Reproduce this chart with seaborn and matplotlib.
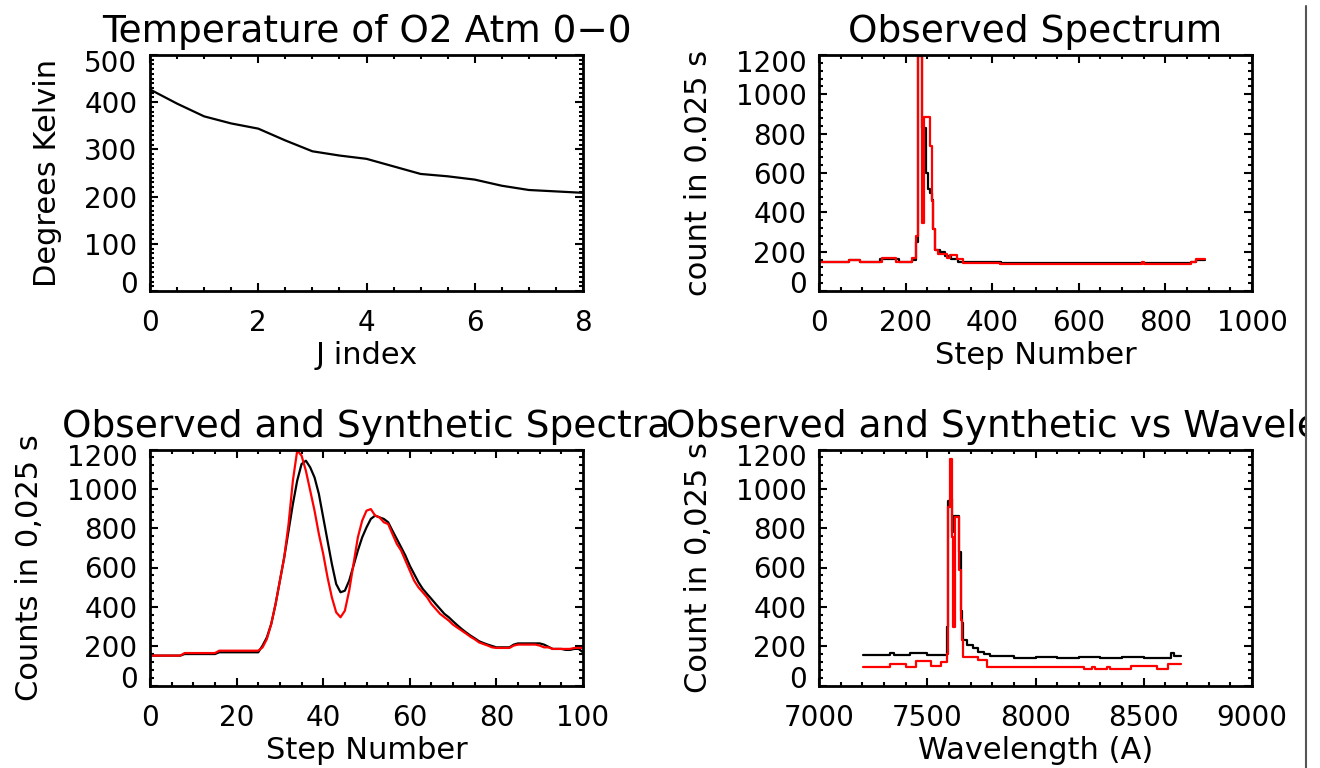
"""
Four-panel O2 atmospheric band figure: temperature vs J index and
observed / synthetic spectra, IDL-style boxed axes.
"""
import matplotlib
matplotlib.use('Agg')
import matplotlib.pyplot as plt
import matplotlib.transforms as mtransforms
from matplotlib.patches import Rectangle
from matplotlib.lines import Line2D
from matplotlib.ticker import MultipleLocator
import seaborn as sns

sns.set_style('ticks')
plt.rcParams['font.family'] = ['DejaVu Sans']
plt.rcParams['text.color'] = 'black'
plt.rcParams['axes.labelcolor'] = 'black'
plt.rcParams['xtick.color'] = 'black'
plt.rcParams['ytick.color'] = 'black'

# ---- panel 1: temperature vs J index
j_index = [0, 0.5, 1, 1.5, 2, 2.5, 3, 3.5, 4, 4.5, 5, 5.5, 6, 6.5, 7, 7.5, 8]
temp_k = [427, 397, 370, 355, 344, 319, 296, 287, 280, 264, 248, 243, 236, 223, 214, 211, 208]
temp_xticks = [0, 2, 4, 6, 8]
temp_yticks = [0, 100, 200, 300, 400, 500]

# ---- panel 2: full observed spectrum (step number)
obs_steps_black = [0, 70, 95, 140, 185, 215, 225, 229, 238, 241, 244, 248, 252, 256, 260,
                   264, 268, 280, 290, 305, 320, 420, 500, 600, 700, 800, 860, 870, 892]
obs_black = [150, 157, 150, 165, 150, 157, 250, 1195, 830, 690, 830, 600, 520, 500, 465,
             313, 211, 200, 178, 165, 150, 142, 140, 142, 140, 142, 150, 160, 160]
obs_steps_red = [0, 70, 95, 145, 178, 215, 225, 229, 239, 242, 256, 260, 264, 268, 275,
                 295, 302, 318, 333, 418, 745, 750, 860, 870, 892]
obs_red = [147, 160, 147, 169, 147, 169, 279, 1195, 347, 887, 735, 456, 313, 211, 186,
           169, 181, 164, 144, 136, 150, 136, 150, 165, 165]
step_xticks = [0, 200, 400, 600, 800, 1000]

# ---- panel 3: observed and synthetic, steps 0-100
zoom_steps = list(range(101))
zoom_black = [152, 152, 152, 152, 152, 152, 152, 152, 160, 160, 160, 160, 160, 160, 160, 160,
              169, 169, 169, 169, 169, 169, 169, 169, 169, 169,
              203, 245, 313, 414, 533, 652, 787, 923, 1042, 1126, 1143, 1109, 1058, 974,
              855, 736, 618, 516, 474, 482, 533, 609, 686, 753, 804, 847, 864, 855, 847,
              830, 787, 745, 703, 660, 609, 567, 525, 491, 465, 440, 414, 389, 364, 347,
              326, 306, 287, 270, 254, 240, 225, 216, 208, 201,
              194, 194, 194, 194, 208, 214, 214, 214, 214, 214, 214, 208, 197,
              186, 186, 186, 181, 181, 186, 186, 169]
zoom_red = [152, 152, 152, 152, 152, 152, 152, 152, 165, 165, 165, 165, 165, 165, 165, 165,
            177, 177, 177, 177, 177, 177, 177, 177, 177, 177,
            194, 237, 313, 414, 533, 652, 821, 1042, 1195, 1169, 1092, 991, 889, 770,
            669, 550, 448, 372, 347, 380, 482, 618, 753, 838, 889, 897, 864, 855, 830,
            821, 770, 720, 686, 635, 584, 533, 499, 474, 448, 414, 389, 364, 347, 330,
            309, 294, 279, 264, 248, 235, 219, 211, 203, 194,
            191, 191, 191, 191, 203, 208, 208, 208, 208, 208, 203, 194, 194,
            186, 186, 186, 186, 186, 191, 191, 191]
zoom_xticks = [0, 20, 40, 60, 80, 100]

# ---- panel 4: observed and synthetic vs wavelength
wl_black = [7205, 7330, 7345, 7420, 7480, 7500, 7590, 7598, 7606, 7613, 7620, 7648, 7655,
            7660, 7667, 7685, 7710, 7735, 7760, 7790, 7900, 8000, 8100, 8200, 8300, 8400,
            8500, 8600, 8625, 8640, 8672]
wl_black_counts = [155, 165, 155, 165, 165, 155, 300, 940, 950, 780, 860, 680, 380,
                   320, 231, 206, 190, 172, 160, 148, 140, 145, 140, 143, 140, 145,
                   140, 140, 165, 150, 150]
wl_red = [7205, 7330, 7400, 7448, 7516, 7565, 7590, 7595, 7606, 7613, 7620, 7628, 7648,
          7654, 7659, 7664, 7667, 7736, 7775, 8225, 8260, 8275, 8330, 8345, 8440, 8560,
          8610, 8672]
wl_red_counts = [96, 109, 96, 125, 101, 118, 160, 909, 1150, 757, 299, 859, 587,
                 333, 231, 165, 146, 130, 96, 84, 96, 84, 96, 84, 101, 84,
                 109, 109]
wl_xticks = [7000, 7500, 8000, 8500, 9000]

count_yticks = [0, 200, 400, 600, 800, 1000, 1200]

TITLE_FS = 27
LABEL_FS = 22
TICK_FS = 20


def _style(ax, xticks, yticks, xminor, yminor):
    ax.set_xticks(xticks)
    ax.set_yticks(yticks)
    ax.set_xlim(xticks[0], xticks[-1])
    ax.set_ylim(yticks[0], yticks[-1])
    ax.xaxis.set_minor_locator(MultipleLocator(xminor))
    ax.yaxis.set_minor_locator(MultipleLocator(yminor))
    ax.tick_params(which='both', direction='in', top=True, right=True,
                   width=1.5, color='black', labelsize=TICK_FS, labelcolor='black')
    ax.tick_params(which='major', length=6)
    ax.tick_params(which='minor', length=3)
    ax.tick_params(axis='x', which='major', pad=13)
    ax.tick_params(axis='y', which='major', pad=9)
    for sp in ax.spines.values():
        sp.set_linewidth(2)
        sp.set_color('black')
    # IDL nudges the end labels inward
    ylabels = ax.get_yticklabels()
    fig = ax.figure
    ylabels[0].set_transform(ylabels[0].get_transform()
                             + mtransforms.ScaledTranslation(0, 0.09, fig.dpi_scale_trans))
    ylabels[-1].set_transform(ylabels[-1].get_transform()
                              + mtransforms.ScaledTranslation(0, -0.06, fig.dpi_scale_trans))


def _line(ax, x, y, color, style):
    sns.lineplot(x=x, y=y, ax=ax, color=color, lw=1.6, drawstyle=style,
                 estimator=None, sort=False, legend=False)


fig = plt.figure(figsize=(13.2, 7.68), dpi=100)
left_l, left_r = 150 / 1320, 819 / 1320
w = 433 / 1320
h = 236 / 768
bot_top, bot_bot = 1 - 291 / 768, 1 - 685.5 / 768

ax1 = fig.add_axes([left_l, bot_top, w, h])
ax2 = fig.add_axes([left_r, bot_top, w, h])
ax3 = fig.add_axes([left_l, bot_bot, w, h])
ax4 = fig.add_axes([left_r, bot_bot, w, h])

# panel 1
_line(ax1, j_index, temp_k, 'black', 'default')
_style(ax1, temp_xticks, temp_yticks, 0.5, 10)
ax1.set_title('Temperature of O2 Atm 0\u22120', fontsize=TITLE_FS, pad=9)
ax1.set_xlabel('J index', fontsize=LABEL_FS, labelpad=3)
ax1.set_ylabel('Degrees Kelvin', fontsize=LABEL_FS, labelpad=16)

# panel 2
_line(ax2, obs_steps_black, obs_black, 'black', 'steps-post')
_line(ax2, obs_steps_red, obs_red, 'red', 'steps-post')
_style(ax2, step_xticks, count_yticks, 50, 40)
ax2.set_title('Observed Spectrum', fontsize=TITLE_FS, pad=9)
ax2.set_xlabel('Step Number', fontsize=LABEL_FS, labelpad=3)
ax2.set_ylabel('count in 0.025 s', fontsize=LABEL_FS, labelpad=16)

# panel 3
_line(ax3, zoom_steps, zoom_black, 'black', 'default')
_line(ax3, zoom_steps, zoom_red, 'red', 'default')
_style(ax3, zoom_xticks, count_yticks, 5, 40)
ax3.set_title('Observed and Synthetic Spectra', fontsize=TITLE_FS, pad=9)
ax3.set_xlabel('Step Number', fontsize=LABEL_FS, labelpad=3)
ax3.set_ylabel('Counts in 0,025 s', fontsize=LABEL_FS, labelpad=16)

# panel 4
_line(ax4, wl_black, wl_black_counts, 'black', 'steps-post')
_line(ax4, wl_red, wl_red_counts, 'red', 'steps-post')
_style(ax4, wl_xticks, count_yticks, 100, 40)
ax4.set_title('Observed and Synthetic vs Wavelength', fontsize=TITLE_FS, pad=9)
ax4.set_xlabel('Wavelength (A)', fontsize=LABEL_FS, labelpad=3)
ax4.set_ylabel('Count in 0,025 s', fontsize=LABEL_FS, labelpad=16)

# screenshot edge: crop on the right
fig.add_artist(Rectangle((1307 / 1320, 0), 13 / 1320, 1, transform=fig.transFigure,
                         facecolor='white', edgecolor='none', zorder=10))
fig.add_artist(Line2D([1306 / 1320, 1306 / 1320], [0, 1 - 6 / 768], transform=fig.transFigure,
                      color='#555555', lw=1.5, zorder=11))

fig.savefig('out.png', dpi=100, facecolor='white')
